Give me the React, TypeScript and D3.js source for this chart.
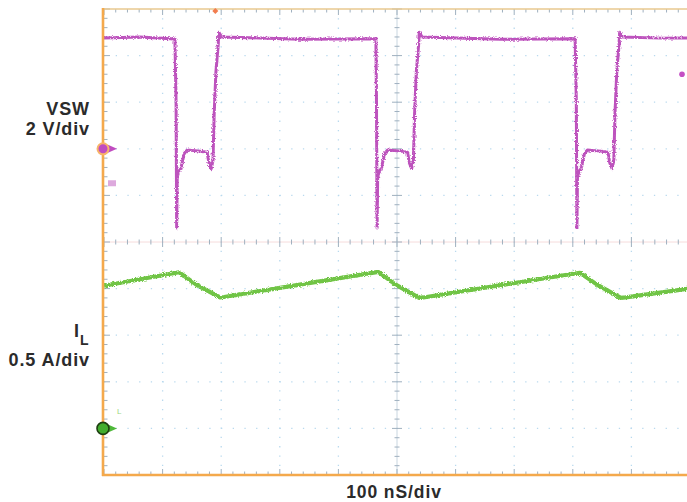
import React from "react";
import * as d3 from "d3";

// ---- Data (read from the scope capture) ----
// Time axis: 100 ns/div, 10 divisions
const timeTicks = [0, 100, 200, 300, 400, 500, 600, 700, 800, 900, 1000];
// Switch-node voltage (V), 2 V/div
const vswT = [
  0, 61, 121, 123, 124, 125, 128, 131, 137, 142, 164, 176, 179, 183, 186, 188, 191, 195, 196, 201, 334, 464,
  465, 466, 467, 470, 473, 479, 484, 506, 518, 521, 525, 528, 530, 533, 537, 538, 543, 676, 804,
  806, 807, 808, 811, 814, 820, 825, 847, 860, 863, 867, 870, 872, 875, 879, 880, 885, 950, 1000,
];
const vswV = [
  4.76, 4.8, 4.71, 2.0, -3.4, -1.2, -0.95, -0.85, -0.2, -0.05, -0.1, -0.15, -0.6, -0.85, -0.5, 1.5, 3.3, 4.5, 5.0, 4.8, 4.7, 4.72,
  2.0, -3.4, -1.2, -0.95, -0.85, -0.2, -0.05, -0.1, -0.15, -0.6, -0.85, -0.5, 1.5, 3.3, 4.5, 5.0, 4.8, 4.7, 4.72,
  2.0, -3.4, -1.2, -0.95, -0.85, -0.2, -0.05, -0.1, -0.15, -0.6, -0.85, -0.5, 1.5, 3.3, 4.5, 5.0, 4.8, 4.75, 4.76,
];
// Inductor current (A), 0.5 A/div
const ilT = [0, 128, 158, 198, 205, 468, 497, 538, 545, 812, 842, 882, 890, 1000];
const ilA = [1.53, 1.675, 1.54, 1.405, 1.41, 1.68, 1.545, 1.40, 1.405, 1.67, 1.54, 1.40, 1.405, 1.5];

const labels = {
  vsw: "VSW",
  vswScale: "2 V/div",
  il: "I",
  ilSub: "L",
  ilScale: "0.5 A/div",
  time: "100 nS/div",
};

const W = 687;
const H = 502;
const L = 104, R = 690, T = 9, B = 475;

export default function App() {
  const x = d3.scaleLinear().domain([0, 1000]).range([L, R]);
  const yV = d3.scaleLinear().domain([-14, 6]).range([B, T]); // 2 V/div, 10 div
  const yI = d3.scaleLinear().domain([-0.5, 4.5]).range([B, T]); // 0.5 A/div
  const yDiv = d3.scaleLinear().domain([0, 10]).range([T, B]);

  const vswLine = d3
    .line<number>()
    .x((_, i) => x(vswT[i]))
    .y((d) => yV(d))(vswV) as string;
  const ilLine = d3
    .line<number>()
    .x((_, i) => x(ilT[i]))
    .y((d) => yI(d))(ilA) as string;

  const divs = d3.range(0, 11);
  const minorX = d3.range(0, 1001, 20);
  const minorY = d3.range(0, 10.01, 0.2);
  const tickCol = "#9fb0bf";
  const gridCol = "#b9d9ee";
  const orange = "#f4a94c";
  const cx = x(500);
  const cy = yDiv(5);

  return (
    <svg width={W} height={H} style={{ position: "absolute", left: 0, top: 0, background: "#fff" }}>
      <defs>
        <filter id="noise" x="-5%" y="-5%" width="110%" height="110%">
          <feTurbulence type="fractalNoise" baseFrequency="0.8" numOctaves={2} seed={3} result="n" />
          <feDisplacementMap in="SourceGraphic" in2="n" scale={3.5} xChannelSelector="R" yChannelSelector="G" />
        </filter>
        <clipPath id="plot">
          <rect x={L} y={T} width={R - L} height={B - T} />
        </clipPath>
      </defs>

      {/* dotted grid */}
      {divs.map((d) =>
        d === 0 || d === 10 || d === 5 ? null : (
          <line key={"gx" + d} x1={x(d * 100)} x2={x(d * 100)} y1={T} y2={B}
            stroke={gridCol} strokeWidth={1.3} strokeDasharray="1.3 8" />
        )
      )}
      {divs.map((d) =>
        d === 0 || d === 10 || d === 5 ? null : (
          <line key={"gy" + d} x1={L} x2={R} y1={yDiv(d)} y2={yDiv(d)}
            stroke={gridCol} strokeWidth={1.3} strokeDasharray="1.3 10.4" />
        )
      )}
      {/* center cross */}
      <line x1={L} x2={R} y1={cy} y2={cy} stroke="#f6dcdc" strokeWidth={1} />
      <line x1={cx} x2={cx} y1={T} y2={B} stroke="#c9d6e0" strokeWidth={1} />
      {minorX.map((t) => (
        <line key={"cx" + t} x1={x(t)} x2={x(t)} y1={cy - (t % 100 === 0 ? 5 : 2.5)} y2={cy + (t % 100 === 0 ? 5 : 2.5)}
          stroke={tickCol} strokeWidth={1} />
      ))}
      {minorY.map((v, i) => (
        <line key={"cy" + i} x1={cx - (i % 5 === 0 ? 5 : 2.5)} x2={cx + (i % 5 === 0 ? 5 : 2.5)} y1={yDiv(v)} y2={yDiv(v)}
          stroke={tickCol} strokeWidth={1} />
      ))}
      {/* border ticks */}
      {minorX.map((t) => (
        <g key={"bx" + t}>
          <line x1={x(t)} x2={x(t)} y1={T} y2={T + (t % 100 === 0 ? 6 : 3.5)} stroke={tickCol} strokeWidth={1} />
          <line x1={x(t)} x2={x(t)} y1={B} y2={B - (t % 100 === 0 ? 6 : 3.5)} stroke={tickCol} strokeWidth={1} />
        </g>
      ))}
      {minorY.map((v, i) => (
        <line key={"by" + i} x1={L} x2={L + (i % 5 === 0 ? 6 : 3.5)} y1={yDiv(v)} y2={yDiv(v)} stroke={tickCol} strokeWidth={1} />
      ))}

      {/* traces */}
      <g clipPath="url(#plot)">
        <path d={ilLine} fill="none" stroke="#6fc444" strokeWidth={4.2} strokeLinejoin="round" filter="url(#noise)" />
        <path d={vswLine} fill="none" stroke="#bd52bd" strokeWidth={3} strokeLinejoin="round" filter="url(#noise)" />
      </g>

      {/* frame */}
      <line x1={L - 1} x2={W} y1={T} y2={T} stroke="#e9c98f" strokeWidth={1.6} />
      <line x1={L - 1} x2={L - 1} y1={T - 1} y2={B + 1} stroke={orange} strokeWidth={2.6} />
      <line x1={L - 2} x2={W} y1={B} y2={B} stroke={orange} strokeWidth={2.6} />

      {/* markers */}
      <path d={`M${x(190)},${T - 1} l-3,3 l3,3 l3,-3 z`} fill="#f27d4f" />
      <circle cx={682} cy={yV(3.2)} r={2.8} fill="#c44fc4" />
      <rect x={108} y={yV(-1.35)} width={8} height={6} fill="#d79ad7" opacity={0.85} />
      <text x={117} y={yI(0.15)} fontSize={8} fill="#9cd67e" fontFamily="Liberation Sans, Arial">L</text>

      <path d={`M${L + 4},${yV(0) - 4} L${L + 13},${yV(0)} L${L + 4},${yV(0) + 4} z`} fill="#c04cc0" />
      <circle cx={L - 1} cy={yV(0)} r={5.5} fill="#c04cc0" stroke="#f7b46a" strokeWidth={2} />
      <path d={`M${L + 4},${yI(0) - 4} L${L + 13},${yI(0)} L${L + 4},${yI(0) + 4} z`} fill="#4fb83a" />
      <circle cx={L - 1} cy={yI(0)} r={6} fill="#42ad2e" stroke="#1e3f12" strokeWidth={1.6} />

      {/* labels */}
      <g fontFamily="Liberation Sans, Arial, sans-serif" fontWeight="bold" fill="#2b2b2b" fontSize={18} letterSpacing={0.9}>
        <text x={90} y={115} textAnchor="end">{labels.vsw}</text>
        <text x={90} y={135} textAnchor="end">{labels.vswScale}</text>
        <text x={80} y={337} textAnchor="end">{labels.il}</text>
        <text x={80} y={345} fontSize={14}>{labels.ilSub}</text>
        <text x={90} y={366} textAnchor="end">{labels.ilScale}</text>
        <text x={394} y={497.5} textAnchor="middle" fontSize={17.5}>{labels.time}</text>
      </g>
    </svg>
  );
}
